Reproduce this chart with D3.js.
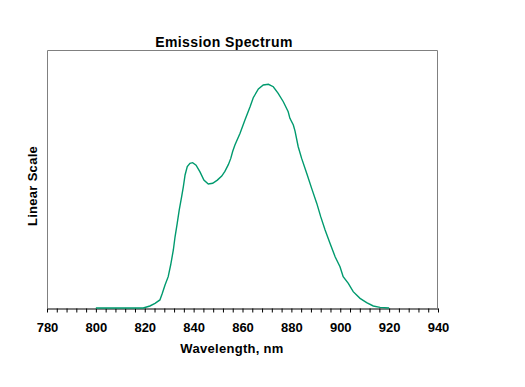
<!DOCTYPE html>
<html>
<head>
<meta charset="utf-8">
<script src="https://cdn.jsdelivr.net/npm/d3@7"></script>
<style>
  body { margin: 0; background: #fff; }
  svg { display: block; }
  text { font-family: "Liberation Sans", Arial, sans-serif; font-weight: bold; fill: #000; }
</style>
</head>
<body>
<svg id="chart" width="525" height="387"></svg>
<script>
// ---- data ----
const wavelength = [800, 819.4, 822.1, 824.2, 826.2, 827.2, 828.3, 829.6, 830.6, 831.7, 832.4, 833.3, 834.1, 835.1, 835.8, 836.5, 837.4, 838.5, 839.6, 841.0, 842.6, 844.2, 846.0, 847.8, 849.7, 851.5, 852.8, 854.2, 855.2, 856.0, 856.9, 859.0, 861.0, 863.1, 864.4, 866.5, 868.5, 870.6, 872.6, 874.6, 876.7, 878.7, 879.4, 880.8, 881.5, 882.8, 884.2, 886.3, 888.3, 890.4, 892.0, 893.8, 895.8, 897.9, 899.9, 901.2, 903.3, 905.3, 908.1, 910.8, 913.5, 916.3, 920];
const intensity  = [0, 0, 0.009, 0.021, 0.036, 0.066, 0.103, 0.140, 0.192, 0.259, 0.318, 0.379, 0.437, 0.497, 0.542, 0.594, 0.631, 0.646, 0.649, 0.638, 0.608, 0.571, 0.554, 0.557, 0.571, 0.589, 0.610, 0.640, 0.668, 0.700, 0.728, 0.780, 0.839, 0.899, 0.939, 0.978, 0.996, 0.999, 0.988, 0.958, 0.921, 0.876, 0.847, 0.817, 0.790, 0.720, 0.668, 0.601, 0.534, 0.467, 0.408, 0.348, 0.289, 0.229, 0.184, 0.140, 0.110, 0.073, 0.043, 0.024, 0.009, 0.003, 0];
const xTicks = [780, 800, 820, 840, 860, 880, 900, 920, 940];
const xDomain = [780, 940];
const yDomain = [0, 1.152];
const title = "Emission Spectrum";
const xTitle = "Wavelength, nm";
const yTitle = "Linear Scale";

// ---- layout ----
const mLeft = 47, mRight = 438, mTop = 50, mBottom = 308;
const svg = d3.select("#chart");

const x = d3.scaleLinear().domain(xDomain).range([mLeft, mRight]);
const y = d3.scaleLinear().domain(yDomain).range([mBottom, mTop]);

// plot frame (gray top/left/right)
svg.append("path")
  .attr("d", `M${mLeft + 0.5},${mBottom} V${mTop + 0.5} H${mRight - 0.5} V${mBottom}`)
  .attr("fill", "none").attr("stroke", "#808080").attr("stroke-width", 1);

// x axis
const minorTicks = d3.range(xDomain[0], xDomain[1] + 0.001, 4);
const xAxis = d3.axisBottom(x)
  .tickValues(minorTicks)
  .tickSize(4)
  .tickSizeOuter(0)
  .tickFormat(d => xTicks.includes(d) ? d : "");
const gx = svg.append("g")
  .attr("transform", `translate(0,${mBottom + 0.5})`)
  .call(xAxis);
gx.select(".domain").attr("stroke", "#000").attr("stroke-width", 1.2);
gx.selectAll(".tick line").attr("stroke", "#000");
gx.selectAll(".tick text")
  .attr("y", 14)
  .style("font-family", "'Liberation Sans', Arial, sans-serif")
  .style("font-weight", "bold")
  .style("font-size", "13px")
  .attr("fill", "#000");

// line
const line = d3.line()
  .x((d, i) => x(wavelength[i]))
  .y((d, i) => y(intensity[i]));
svg.append("path")
  .datum(intensity)
  .attr("d", line)
  .attr("fill", "none")
  .attr("stroke", "#009a6e")
  .attr("stroke-width", 1.4);

// titles
svg.append("text")
  .attr("x", 224).attr("y", 47)
  .attr("text-anchor", "middle")
  .style("font-size", "14px")
  .style("letter-spacing", "0.4px")
  .text(title);

svg.append("text")
  .attr("x", 232).attr("y", 353)
  .attr("text-anchor", "middle")
  .style("font-size", "13px")
  .style("letter-spacing", "0.3px")
  .text(xTitle);

svg.append("text")
  .attr("transform", `translate(37,186) rotate(-90)`)
  .attr("text-anchor", "middle")
  .style("font-size", "13px")
  .style("letter-spacing", "0.3px")
  .text(yTitle);
</script>
</body>
</html>
